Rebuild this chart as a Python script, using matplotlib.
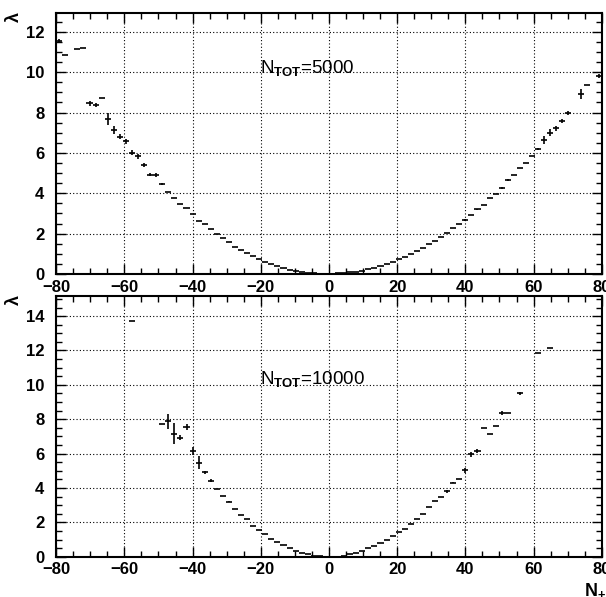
import matplotlib
matplotlib.use('Agg')
import matplotlib.pyplot as plt
import numpy as np
from matplotlib.ticker import MultipleLocator

plt.rcParams['font.family'] = ['Liberation Sans', 'DejaVu Sans']
plt.rcParams['mathtext.fontset'] = 'custom'
plt.rcParams['mathtext.rm'] = 'Liberation Sans'
plt.rcParams['mathtext.bf'] = 'Liberation Sans:bold'

nan = np.nan

# 90 bins between -80 and 80
x_lo, x_hi, n_bins = -80, 80, 90

# N_TOT = 5000
lam_5000 = [11.55, 10.86, nan, 11.14, 11.19, 8.45, 8.38, 8.71, 7.66, 7.13,
            6.80, 6.58, 6.02, 5.84, 5.40, 4.93, 4.90, 4.46, 4.08, 3.76,
            3.48, 3.25, 2.99, 2.63, 2.46, 2.21, 2.00, 1.77, 1.60, 1.36,
            1.21, 1.02, 0.89, 0.74, 0.61, 0.51, 0.40, 0.30, 0.21, 0.16,
            0.11, 0.06, 0.05, 0.02, 0.005, 0.01, 0.03, 0.06, 0.08, 0.11,
            0.16, 0.23, 0.31, 0.40, 0.51, 0.61, 0.73, 0.84, 0.97, 1.16,
            1.29, 1.47, 1.65, 1.85, 2.05, 2.26, 2.49, 2.67, 2.92, 3.20,
            3.42, 3.76, 3.98, 4.26, 4.64, 4.90, 5.26, 5.50, 5.84, 6.19,
            6.63, 7.01, 7.21, 7.59, 7.99, nan, 8.94, 9.34, nan, 9.80]
err_5000 = [0.10, 0, 0, 0, 0, 0.12, 0.10, 0, 0.30, 0.20,
            0.13, 0.12, 0.12, 0.12, 0.08, 0.05, 0.10, 0.06, 0, 0,
            0, 0, 0, 0, 0, 0, 0, 0, 0, 0,
            0, 0, 0, 0, 0, 0, 0, 0, 0, 0,
            0, 0, 0, 0, 0, 0, 0, 0, 0, 0,
            0, 0, 0, 0, 0, 0, 0, 0, 0, 0,
            0, 0, 0, 0, 0, 0, 0, 0.06, 0, 0.04,
            0, 0, 0, 0.04, 0.05, 0, 0, 0, 0, 0.06,
            0.20, 0.15, 0.12, 0.10, 0.10, 0, 0.25, 0, 0, 0.10]

# N_TOT = 10000
lam_10000 = [nan, nan, nan, nan, nan, nan, nan, nan, nan, nan,
             nan, nan, 13.71, nan, nan, nan, nan, 7.74, 7.88, 7.16,
             6.93, 7.55, 6.14, 5.48, 4.90, 4.43, 3.95, 3.56, 3.21, 2.77,
             2.43, 2.17, 1.80, 1.55, 1.30, 1.03, 0.84, 0.70, 0.51, 0.33,
             0.23, 0.16, 0.06, 0.02, 0.005, 0.0, 0.01, 0.06, 0.16, 0.23,
             0.35, 0.49, 0.63, 0.80, 0.96, 1.21, 1.44, 1.64, 1.91, 2.20,
             2.46, 2.87, 3.27, 3.47, 3.81, 4.30, 4.55, 5.03, 5.96, 6.16,
             7.51, 7.14, 7.63, 8.36, 8.34, nan, 9.51, nan, nan, 11.85,
             nan, 12.12, nan, nan, nan, nan, nan, nan, nan, nan]
err_10000 = [0, 0, 0, 0, 0, 0, 0, 0, 0, 0,
             0, 0, 0, 0, 0, 0, 0, 0, 0.45, 0.60,
             0.15, 0.20, 0.25, 0.37, 0.10, 0.10, 0, 0, 0.05, 0,
             0, 0, 0, 0, 0, 0, 0, 0, 0, 0,
             0, 0, 0, 0, 0, 0, 0, 0, 0, 0,
             0, 0, 0, 0, 0, 0, 0, 0, 0, 0,
             0, 0, 0, 0, 0.08, 0.03, 0, 0.15, 0.15, 0.12,
             0, 0, 0, 0.10, 0, 0, 0.10, 0, 0, 0,
             0, 0, 0, 0, 0, 0, 0, 0, 0, 0]

edges = np.linspace(x_lo, x_hi, n_bins + 1)
centers = 0.5 * (edges[:-1] + edges[1:])
half_w = 0.5 * (edges[1] - edges[0])

fig = plt.figure(figsize=(6.06, 5.97), dpi=100)
ax1 = fig.add_axes([0.0927, 0.541, 0.9003, 0.4372])
ax2 = fig.add_axes([0.0927, 0.0675, 0.9003, 0.4367])

def draw(ax, lam, err, ymax, label, ytxt):
    ax.errorbar(centers, lam, xerr=half_w, yerr=err, fmt='none',
                ecolor='black', elinewidth=1.2, capsize=0)
    ax.set_xlim(x_lo, x_hi)
    ax.set_ylim(0, ymax)
    ax.xaxis.set_major_locator(MultipleLocator(20))
    ax.xaxis.set_minor_locator(MultipleLocator(5))
    ax.yaxis.set_major_locator(MultipleLocator(2))
    ax.yaxis.set_minor_locator(MultipleLocator(0.5))
    ax.grid(True, which='major', color='black', linestyle=(0, (1, 2)), linewidth=0.8)
    ax.tick_params(which='both', direction='in', top=True, right=True, width=1)
    ax.tick_params(which='major', length=7)
    ax.tick_params(which='minor', length=4)
    ax.tick_params(axis='y', pad=8.5, labelsize=12)
    ax.tick_params(axis='x', pad=4, labelsize=12)
    for t in ax.get_xticklabels() + ax.get_yticklabels():
        t.set_fontweight('bold')
    for s in ax.spines.values():
        s.set_linewidth(1.5)
    ax.text(-20.2, ytxt, label, fontsize=13.5, va='center', ha='left')

draw(ax1, lam_5000, err_5000, 12.93, r'N$_{\mathbf{TOT}}$=5000', 10.16)
draw(ax2, lam_10000, err_10000, 15.17, r'N$_{\mathbf{TOT}}$=10000', 10.3)

fig.text(0.023, 0.972, 'λ', rotation=90, fontsize=13, fontweight='bold', ha='center', va='center')
fig.text(0.023, 0.497, 'λ', rotation=90, fontsize=13, fontweight='bold', ha='center', va='center')
fig.text(0.9637, 0.004, r'N$_{\mathbf{+}}$', fontsize=13, fontweight='bold', ha='left', va='baseline')

fig.savefig('out.png', dpi=100)
